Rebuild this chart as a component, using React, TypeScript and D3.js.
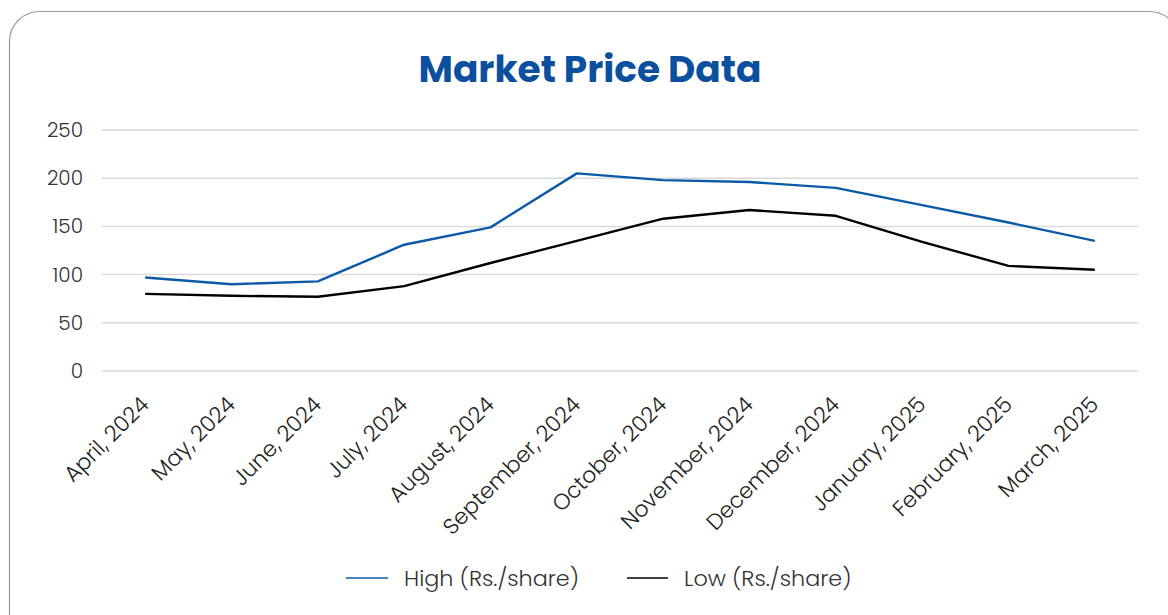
import React from "react";
import * as d3 from "d3";

const categories = [
  "April, 2024", "May, 2024", "June, 2024", "July, 2024", "August, 2024", "September, 2024",
  "October, 2024", "November, 2024", "December, 2024", "January, 2025", "February, 2025", "March, 2025",
];
const highValues = [97, 90, 93, 131, 149, 205, 198, 196, 190, 172, 154, 135];
const lowValues = [80, 78, 77, 88, 112, 135, 158, 167, 161, 134, 109, 105];
const yTicks = [0, 50, 100, 150, 200, 250];

const W = 1168;
const H = 615;
const FONT = "Poppins, 'Open Sans', sans-serif";

export default function App() {
  const x = d3.scaleBand<string>().domain(categories).range([102, 1138]).padding(0);
  const y = d3.scaleLinear().domain([0, 250]).range([371, 130]);
  const cx = (c: string) => (x(c) as number) + x.bandwidth() / 2;

  const line = d3
    .line<number>()
    .x((_, i) => cx(categories[i]))
    .y((d) => y(d))
    .curve(d3.curveLinear);

  return (
    <div style={{ position: "absolute", left: 0, top: 0 }}>
      <svg width={W} height={H} style={{ display: "block" }}>
        <rect x={0} y={0} width={W} height={H} fill="#fff" />
        <rect x={9.5} y={11.5} width={1170} height={640} rx={30} ry={30} fill="#fff" stroke="#9a9a9a" strokeWidth={1.2} />
        <text x={590} y={82} textAnchor="middle" fontFamily={FONT} fontWeight={700} fontSize={37.5} fill="#0b4f9e">
          Market Price Data
        </text>
        {yTicks.map((t) => (
          <g key={t}>
            <line x1={102} x2={1138} y1={y(t)} y2={y(t)} stroke="#d9d9d9" strokeWidth={1.5} />
            <text x={83} y={y(t) + 7} textAnchor="end" fontFamily={FONT} fontWeight={300} fontSize={20} fill="#333">
              {t}
            </text>
          </g>
        ))}
        <path d={line(lowValues) || ""} fill="none" stroke="#000" strokeWidth={2.4} strokeLinejoin="round" />
        <path d={line(highValues) || ""} fill="none" stroke="#0b5aa8" strokeWidth={2.4} strokeLinejoin="round" />
        {categories.map((c) => (
          <text
            key={c}
            transform={`translate(${cx(c) + 5},${406}) rotate(-45)`}
            textAnchor="end"
            fontFamily={FONT}
            fontWeight={300}
            fontSize={22}
            fill="#222"
          >
            {c}
          </text>
        ))}
        <g fontFamily={FONT} fontSize={22.3} fontWeight={300} fill="#333">
          <line x1={346} x2={388} y1={578} y2={578} stroke="#0b5aa8" strokeWidth={1.6} />
          <text x={404} y={586}>High (Rs./share)</text>
          <line x1={627} x2={668} y1={578} y2={578} stroke="#000" strokeWidth={1.6} />
          <text x={684} y={586}>Low (Rs./share)</text>
        </g>
      </svg>
    </div>
  );
}
